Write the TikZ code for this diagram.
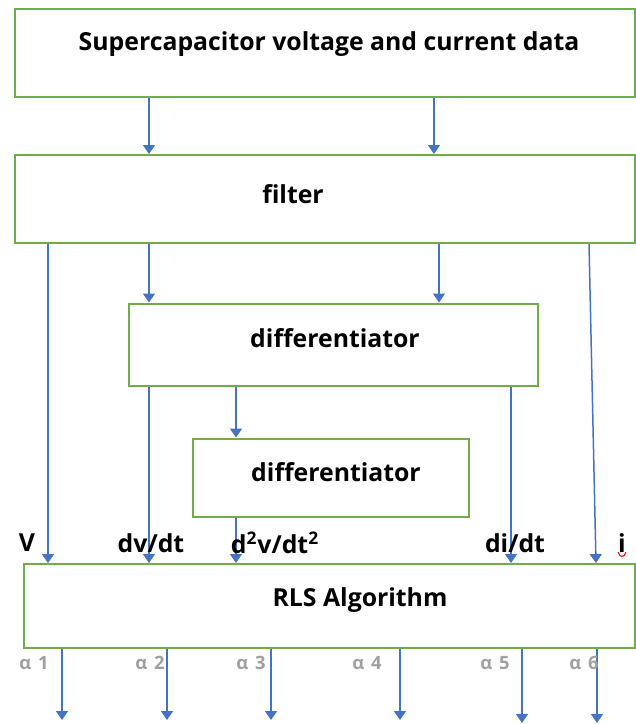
\documentclass[tikz,border=0pt]{standalone}
\usepackage{fontspec}
\setmainfont{Open Sans}
\usetikzlibrary{arrows.meta,fit}
\definecolor{boxgreen}{RGB}{112,173,71}
\definecolor{flowblue}{RGB}{68,114,196}
\definecolor{alphagray}{RGB}{160,160,160}
\tikzset{
	% Block and signal styles for the estimation chain
	block/.style={rectangle,draw=boxgreen,line width=1pt,inner sep=0},
	blocktext/.style={font=\bfseries\fontsize{12.4}{14}\selectfont},
	flow/.style={draw=flowblue,line width=0.75pt,-{Triangle[width=6pt,length=4.5pt]}},
	sig/.style={font=\bfseries\fontsize{12.4}{14}\selectfont,inner sep=0},
	coef/.style={text=alphagray,font=\bfseries\fontsize{9.2}{11}\selectfont,inner sep=0}
}
\begin{document}
\begin{tikzpicture}[x=0.5pt,y=-0.5pt]
			% macros for blocks and signal names
			\newcommand{\block}[5]{\node(#1)[block,fit={(#2,#3)(#4,#5)}]{};}
			\newcommand{\siglabel}[3]{\node(#1)[sig]at(#2){#3};}
			\useasboundingbox (0,0) rectangle (636,724);
			
			\block{data}{14.5}{9}{635}{96.5}
			\block{filter}{14.5}{155}{635}{243}
			\block{diff1}{129}{303.5}{537.5}{385.5}
			\block{diff2}{193}{438.5}{469}{517}
			\block{rls}{23.5}{564}{635}{647.5}
			
			\node(data-t)[blocktext]at(329,44){Supercapacitor voltage and current data};
			\node(filter-t)[blocktext]at(293,194){filter};
			\node(diff1-t)[blocktext]at(335,338){differentiator};
			\node(diff2-t)[blocktext]at(336,472){differentiator};
			\node(rls-t)[blocktext]at(360,600){RLS Algorithm};
			
			% data to filter
			\draw[flow] (data.south -| 149,0) -- (filter.north -| 149,0);
			\draw[flow] (data.south -| 434,0) -- (filter.north -| 434,0);
			% filter outputs
			\draw[flow] (filter.south -| 48,0) -- (rls.north -| 48,0);
			\draw[flow] (filter.south -| 149,0) -- (diff1.north -| 149,0);
			\draw[flow] (filter.south -| 439,0) -- (diff1.north -| 439,0);
			\draw[flow] (filter.south -| 589,0) -- (rls.north -| 596,0);
			% differentiator outputs
			\draw[flow] (diff1.south -| 149,0) -- (rls.north -| 149,0);
			\draw[flow] (diff1.south -| 236,0) -- (diff2.north -| 236,0);
			\draw[flow] (diff1.south -| 511,0) -- (rls.north -| 511,0);
			\draw[flow] (diff2.south -| 236,0) -- (rls.north -| 236,0);
			
			\siglabel{v}{27,543}{V}
			\siglabel{dv}{151,543}{dv/dt}
			\siglabel{ddv}{275,543}{d\textsuperscript{2}v/dt\textsuperscript{2}}
			\siglabel{di}{515,543}{di/dt}
			\siglabel{i}{622,543}{i}
			\draw[red,line width=0.5pt] (618,552) .. controls (620,558) and (624,558) .. (626,552);
			
			% RLS outputs
			\foreach \x/\y/\lx [count=\k] in {62/720/34,167/720/150,271/720/251,400/720/367,522/723/495,597/723/584}{
				\coordinate (out\k) at (\x,\y);
				\draw[flow] (rls.south -| out\k) -- (out\k);
				\node(a\k)[coef]at(\lx,663){α\hspace{3.5pt}\k};
			}
		\end{tikzpicture}
\end{document}
